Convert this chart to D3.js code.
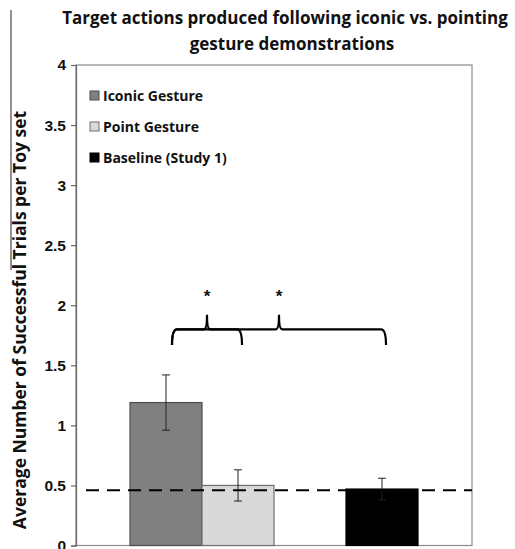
<!DOCTYPE html>
<html>
<head>
<meta charset="utf-8">
<script src="https://cdn.jsdelivr.net/npm/d3@7"></script>
<style>
  body { margin: 0; background: #fff; }
  svg { display: block; }
</style>
</head>
<body>
<svg width="515" height="549"></svg>
<script>
// values
const categories = ["Iconic Gesture", "Point Gesture", "Baseline (Study 1)"];
const means = [1.19, 0.50, 0.47];
const errors = [0.23, 0.13, 0.09];
const baselineLevel = 0.46;
const yTicks = [0, 0.5, 1, 1.5, 2, 2.5, 3, 3.5, 4];
const comparisons = [
  { from: "Iconic Gesture", to: "Point Gesture", label: "*" },
  { from: "Iconic Gesture", to: "Baseline (Study 1)", label: "*" }
];

const fills = { "Iconic Gesture": "#808080", "Point Gesture": "#d9d9d9", "Baseline (Study 1)": "#000" };
const strokes = { "Iconic Gesture": "#4d4d4d", "Point Gesture": "#6e6e6e", "Baseline (Study 1)": "#000" };
// slot each bar sits in (slot 2 is left empty, as in the original)
const slotOf = { "Iconic Gesture": 0, "Point Gesture": 1, "Baseline (Study 1)": 3 };

const svg = d3.select("svg");
const plotL = 76, plotR = 472, plotT = 65, plotB = 545.5;

const y = d3.scaleLinear().domain([0, 4]).range([plotB, plotT]);
const x = d3.scaleBand().domain([0, 1, 2, 3]).range([130, 418]).padding(0);
const cx = c => x(slotOf[c]) + x.bandwidth() / 2;

// title
const title = svg.append("text")
  .attr("text-anchor", "middle")
  .style("font-family", "Open Sans")
  .style("font-weight", "bold")
  .style("font-size", "17px")
  .attr("fill", "#111");
title.append("tspan").attr("x", 285).attr("y", 24).text("Target actions produced following iconic vs. pointing");
title.append("tspan").attr("x", 292).attr("y", 50).text("gesture demonstrations");

// stray line at the left edge of the source image
svg.append("line")
  .attr("x1", 11).attr("x2", 11).attr("y1", 10).attr("y2", 270)
  .attr("stroke", "#222").attr("stroke-width", 1);

// y label
svg.append("text")
  .attr("transform", `translate(26,${(100 + 540) / 2}) rotate(-90)`)
  .attr("text-anchor", "middle")
  .style("font-family", "Open Sans")
  .style("font-weight", "bold")
  .style("font-size", "17.5px")
  .attr("fill", "#111")
  .text("Average Number of Successful Trials per Toy set");

// frame
svg.append("rect")
  .attr("x", plotL).attr("y", plotT)
  .attr("width", plotR - plotL).attr("height", plotB - plotT)
  .attr("fill", "none").attr("stroke", "#8a8a8a").attr("stroke-width", 1.2);

// y axis
const yAxis = svg.append("g")
  .attr("transform", `translate(${plotL},0)`)
  .call(d3.axisLeft(y).tickValues(yTicks).tickSize(5).tickPadding(5).tickFormat(d3.format("")));
yAxis.select(".domain").attr("stroke", "#666").attr("stroke-width", 1.2);
yAxis.selectAll(".tick line").attr("stroke", "#666").attr("stroke-width", 1.2);
yAxis.selectAll(".tick text")
  .style("font-family", "Liberation Sans")
  .style("font-weight", "bold")
  .style("font-size", "15.5px")
  .attr("fill", "#111");

// bars
svg.append("g").selectAll("rect")
  .data(categories)
  .join("rect")
  .attr("x", c => x(slotOf[c]))
  .attr("width", x.bandwidth())
  .attr("y", (c, i) => y(means[i]))
  .attr("height", (c, i) => y(0) - y(means[i]))
  .attr("fill", c => fills[c])
  .attr("stroke", c => strokes[c])
  .attr("stroke-width", 1.2);

// error bars
const eb = svg.append("g").selectAll("g")
  .data(categories)
  .join("g")
  .attr("stroke", "#222")
  .attr("stroke-width", 1);
eb.append("line")
  .attr("x1", c => cx(c)).attr("x2", c => cx(c))
  .attr("y1", (c, i) => y(means[i] + errors[i]))
  .attr("y2", (c, i) => y(means[i] - errors[i]));
eb.append("line")
  .attr("x1", c => cx(c) - 4).attr("x2", c => cx(c) + 4)
  .attr("y1", (c, i) => y(means[i] + errors[i]))
  .attr("y2", (c, i) => y(means[i] + errors[i]));
eb.append("line")
  .attr("x1", c => cx(c) - 4).attr("x2", c => cx(c) + 4)
  .attr("y1", (c, i) => y(means[i] - errors[i]))
  .attr("y2", (c, i) => y(means[i] - errors[i]));

// baseline dashed line
svg.append("line")
  .attr("x1", plotL + 10).attr("x2", plotR)
  .attr("y1", y(baselineLevel)).attr("y2", y(baselineLevel))
  .attr("stroke", "#000").attr("stroke-width", 2.2)
  .attr("stroke-dasharray", "13,8");

// significance braces
const braceY = y(1.80), braceEnd = y(1.67), braceTip = y(1.92);
comparisons.forEach(cmp => {
  const x0 = cx(cmp.from) + 6, x1 = cx(cmp.to) + 4, xm = (x0 + x1) / 2;
  const p = d3.path();
  p.moveTo(x0, braceEnd);
  p.quadraticCurveTo(x0, braceY, x0 + 5, braceY);
  p.lineTo(xm - 3, braceY);
  p.quadraticCurveTo(xm, braceY, xm, braceTip);
  p.quadraticCurveTo(xm, braceY, xm + 3, braceY);
  p.lineTo(x1 - 5, braceY);
  p.quadraticCurveTo(x1, braceY, x1, braceEnd);
  svg.append("path")
    .attr("d", p.toString())
    .attr("fill", "none").attr("stroke", "#000").attr("stroke-width", 2.2);
  svg.append("text")
    .attr("x", xm).attr("y", y(2.03))
    .attr("text-anchor", "middle")
    .style("font-family", "Liberation Sans")
    .style("font-weight", "bold")
    .style("font-size", "17px")
    .attr("fill", "#111")
    .text(cmp.label);
});

// legend
const legend = svg.append("g").selectAll("g")
  .data(categories)
  .join("g")
  .attr("transform", (c, i) => `translate(90,${96 + i * 31})`);
legend.append("rect")
  .attr("x", 0).attr("y", -5).attr("width", 9).attr("height", 9)
  .attr("fill", c => fills[c]).attr("stroke", c => strokes[c]).attr("stroke-width", 1);
legend.append("text")
  .attr("x", 13).attr("y", 0).attr("dy", "0.35em")
  .style("font-family", "Open Sans")
  .style("font-weight", "bold")
  .style("font-size", "14px")
  .attr("fill", "#111")
  .text(c => c);
</script>
</body>
</html>
